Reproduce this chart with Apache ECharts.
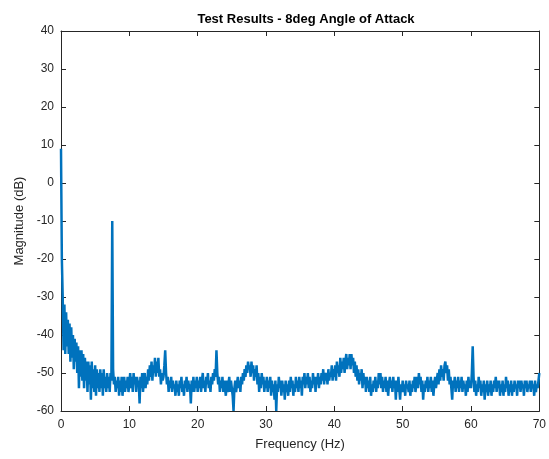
<!DOCTYPE html>
<html>
<head>
<meta charset="utf-8">
<script src="https://cdn.jsdelivr.net/npm/echarts@6/dist/echarts.min.js"></script>
<style>
html,body{margin:0;padding:0;background:#fff;}
#chart{width:549px;height:459px;}
</style>
</head>
<body>
<div id="chart"></div>
<script>
// Frequency resolution of the spectrum (Hz per sample)
var freqStep = 0.125;

// Magnitude (dB), 0.125 Hz steps, one array per 10 Hz band
var mag0to10 = [9,-20,-30,-44,-32,-45,-34,-43,-36,-45,-37,-47,-38,-46,-40,-49,-41,-47,-42,-50,
  -43,-54,-44,-51,-44,-52,-45,-54,-46,-52,-47,-55,-47,-53,-48,-57,-47,-54,-49,-55,
  -48,-56,-49,-54,-50,-55,-49,-54,-50,-56,-49,-54,-51,-55,-50,-54,-51,-55,-50,-52,
  -10,-49,-53,-51,-55,-52,-54,-51,-56,-52,-55,-51,-56,-53,-51,-55,-52,-54,-51,-55];
var mag10to20 = [-53,-50,-54,-51,-55,-50,-53,-51,-55,-51,-53,-52,-58,-51,-54,-50,-55,-52,-50,-54,
  -51,-53,-49,-52,-48,-51,-47,-52,-48,-50,-46,-51,-47,-50,-46,-51,-49,-53,-50,-52,
  -51,-48,-44,-50,-53,-51,-55,-52,-54,-51,-55,-52,-54,-53,-56,-52,-55,-53,-56,-52,
  -54,-51,-55,-53,-56,-52,-54,-51,-55,-52,-54,-53,-58,-52,-55,-51,-55,-52,-54,-51];
var mag20to30 = [-55,-52,-54,-51,-55,-52,-50,-54,-52,-55,-51,-53,-50,-54,-52,-55,-51,-53,-50,-52,
  -49,-51,-44,-50,-53,-51,-55,-52,-54,-51,-55,-52,-54,-56,-52,-55,-53,-51,-55,-52,
  -54,-56,-60,-54,-52,-55,-53,-51,-54,-52,-55,-51,-53,-50,-52,-49,-51,-48,-50,-47,
  -49,-48,-51,-47,-50,-48,-52,-49,-51,-48,-53,-50,-55,-51,-54,-50,-53,-51,-55,-52];
var mag30to40 = [-54,-51,-55,-52,-54,-51,-56,-52,-55,-53,-57,-52,-60,-53,-55,-51,-54,-52,-56,-52,
  -55,-53,-57,-52,-55,-53,-56,-52,-55,-51,-54,-52,-56,-53,-55,-51,-54,-52,-55,-51,
  -54,-52,-56,-51,-53,-50,-54,-51,-53,-50,-54,-51,-55,-52,-54,-50,-53,-51,-55,-51,
  -53,-50,-54,-51,-53,-50,-52,-49,-53,-50,-52,-50,-53,-49,-52,-50,-51,-48,-52,-49];
var mag40to50 = [-51,-48,-52,-47,-50,-48,-51,-46,-50,-47,-49,-46,-50,-47,-45,-49,-46,-48,-45,-49,
  -45,-48,-46,-50,-47,-51,-48,-52,-49,-53,-50,-52,-49,-54,-50,-53,-51,-55,-51,-54,
  -52,-55,-51,-56,-53,-55,-52,-54,-51,-55,-52,-54,-50,-53,-50,-54,-51,-55,-52,-54,
  -51,-55,-52,-56,-53,-51,-54,-52,-55,-51,-54,-52,-57,-52,-55,-51,-54,-57,-53,-55];
var mag50to60 = [-52,-55,-53,-56,-52,-54,-53,-55,-52,-56,-53,-55,-52,-54,-51,-55,-53,-51,-54,-50,
  -53,-51,-55,-52,-57,-53,-55,-52,-54,-51,-55,-52,-54,-51,-55,-52,-56,-53,-51,-54,
  -52,-50,-53,-49,-52,-48,-51,-49,-52,-48,-47,-50,-48,-52,-49,-53,-51,-54,-57,-52,
  -54,-51,-55,-52,-54,-51,-55,-52,-54,-51,-55,-52,-54,-53,-56,-52,-55,-51,-54,-52];
var mag60to70 = [-54,-50,-43,-51,-55,-52,-56,-53,-55,-51,-54,-52,-56,-53,-55,-52,-57,-53,-55,-52,
  -56,-53,-55,-52,-56,-53,-55,-52,-54,-51,-55,-52,-54,-52,-56,-53,-55,-52,-56,-53,
  -55,-51,-54,-52,-56,-53,-55,-52,-56,-53,-55,-52,-54,-53,-56,-52,-54,-52,-55,-52,
  -54,-53,-56,-52,-54,-52,-55,-53,-54,-52,-55,-52,-54,-53,-56,-52,-55,-53,-54,-52,-50];

var xTicks = [0,10,20,30,40,50,60,70];
var yTicks = [-60,-50,-40,-30,-20,-10,0,10,20,30,40];

var magnitude = [].concat(mag0to10, mag10to20, mag20to30, mag30to40, mag40to50, mag50to60, mag60to70);
var seriesData = magnitude.map(function (v, i) { return [i * freqStep, v]; });

var axisColor = '#262626';
var font = 'Liberation Sans, Arial, Helvetica, sans-serif';

var chart = echarts.init(document.getElementById('chart'), null, {renderer: 'canvas'});

function xAx(pos, show) {
  return {
    type: 'value', position: pos, min: xTicks[0], max: xTicks[xTicks.length - 1], interval: 10,
    name: show ? 'Frequency (Hz)' : '', nameLocation: 'middle', nameGap: 27,
    nameTextStyle: {color: axisColor, fontSize: 13, fontFamily: font},
    axisLine: {show: true, onZero: false, lineStyle: {color: axisColor, width: 1}},
    axisTick: {show: true, inside: true, length: 5, lineStyle: {color: axisColor}},
    axisLabel: {show: show, color: axisColor, fontSize: 12, fontFamily: font, margin: 8},
    splitLine: {show: false}
  };
}
function yAx(pos, show) {
  return {
    type: 'value', position: pos, min: yTicks[0], max: yTicks[yTicks.length - 1], interval: 10,
    name: show ? 'Magnitude (dB)' : '', nameLocation: 'middle', nameGap: 33, nameRotate: 90,
    nameTextStyle: {color: axisColor, fontSize: 13, fontFamily: font},
    axisLine: {show: true, onZero: false, lineStyle: {color: axisColor, width: 1}},
    axisTick: {show: true, inside: true, length: 5, lineStyle: {color: axisColor}},
    axisLabel: {show: show, color: axisColor, fontSize: 12, fontFamily: font, margin: 7},
    splitLine: {show: false}
  };
}

chart.setOption({
  animation: false,
  backgroundColor: '#ffffff',
  title: {
    text: 'Test Results - 8deg Angle of Attack',
    left: 301, top: 8, textAlign: 'center',
    textStyle: {fontSize: 13, fontWeight: 'bold', color: '#000', fontFamily: font}
  },
  grid: {left: 61, right: 8, top: 31, bottom: 48, containLabel: false},
  xAxis: [xAx('bottom', true), xAx('top', false)],
  yAxis: [yAx('left', true), yAx('right', false)],
  series: [{
    type: 'line',
    data: seriesData,
    xAxisIndex: 0, yAxisIndex: 0,
    showSymbol: false,
    lineStyle: {color: '#0072BD', width: 2.5},
    clip: true
  }]
});
</script>
</body>
</html>
